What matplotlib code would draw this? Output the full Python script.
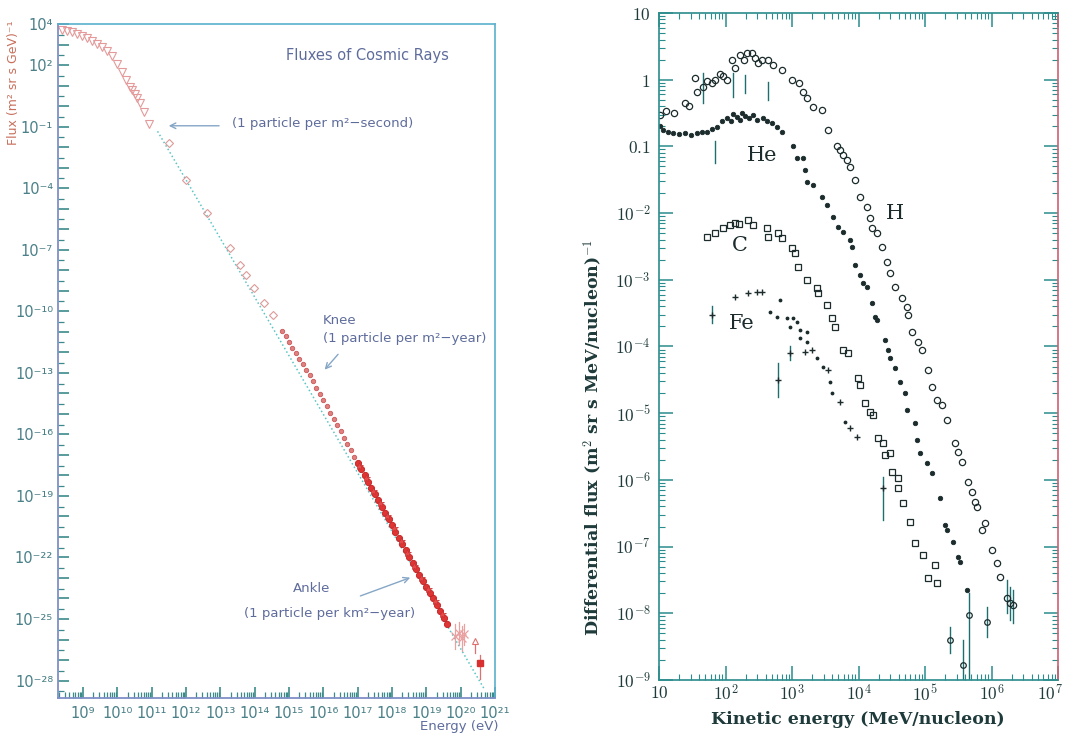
import matplotlib
matplotlib.use('Agg')
import matplotlib.pyplot as plt
import matplotlib.transforms as mtransforms
import numpy as np
from matplotlib.ticker import FixedLocator, NullFormatter

plt.rcParams['mathtext.fontset'] = 'cm'

# ---------------- left panel: all-particle spectrum (log10 values) ----------------
tri_logE = [8.38, 8.52, 8.67, 8.81, 8.96, 9.11, 9.26, 9.40, 9.55, 9.70, 9.84, 9.98,
            10.13, 10.25, 10.36, 10.43, 10.50, 10.58, 10.67, 10.78, 10.91]
tri_logF = [3.72, 3.66, 3.59, 3.50, 3.40, 3.30, 3.18, 3.03, 2.86, 2.66, 2.45, 2.05,
            1.64, 1.25, 0.95, 0.79, 0.60, 0.40, 0.17, -0.30, -0.89]

dia_logE = [11.49, 12.00, 12.60, 13.28, 13.57, 13.74, 13.98, 14.28, 14.52]
dia_logF = [-1.79, -3.58, -5.21, -6.92, -7.74, -8.22, -8.88, -9.58, -10.18]

knee_logE = [14.8, 14.9, 15.0, 15.1, 15.2, 15.3, 15.4, 15.5, 15.6, 15.7, 15.8, 15.9,
             16.0, 16.1, 16.2, 16.3, 16.4, 16.5, 16.6, 16.7, 16.8, 16.9]
knee_logF = [-10.95, -11.23, -11.50, -11.77, -12.04, -12.31, -12.58, -12.85, -13.12,
             -13.42, -13.73, -14.03, -14.34, -14.64, -14.95, -15.25, -15.56, -15.86,
             -16.17, -16.47, -16.78, -17.08]

ankle_logE = [17.0, 17.1, 17.2, 17.3, 17.4, 17.5, 17.6, 17.7, 17.8, 17.9, 18.0, 18.1,
              18.2, 18.3, 18.4, 18.5, 18.6, 18.7, 18.8, 18.9, 19.0, 19.1, 19.2, 19.3,
              19.4, 19.5, 19.6]
ankle_logF = [-17.39, -17.69, -18.00, -18.30, -18.61, -18.91, -19.22, -19.52, -19.83,
              -20.13, -20.44, -20.74, -21.05, -21.35, -21.66, -21.96, -22.27, -22.57,
              -22.86, -23.14, -23.43, -23.71, -24.00, -24.30, -24.62, -24.95, -25.25]

ankle2_logE = [17.05, 17.25, 17.45, 17.65, 17.85, 18.05, 18.25, 18.45, 18.65, 18.85,
               19.05, 19.25, 19.45]
ankle2_logF = [-17.52, -18.13, -18.74, -19.35, -19.96, -20.57, -21.18, -21.80, -22.40,
               -22.98, -23.55, -24.12, -24.75]

uhe_logE = [19.83, 19.95, 20.03, 20.09]
uhe_logF = [-25.85, -25.70, -25.94, -25.75]
uhe_err = [0.6, 0.55, 0.6, 0.5]

top_logE = 20.55
top_logF = -27.12
top_lo, top_hi = -27.9, -26.73
lim_logE = 20.41
lim_lo, lim_hi = -26.68, -26.05

ref_logE = [11.17, 20.68]
ref_logF = [-1.23, -28.39]

# ---------------- right panel: element spectra (log10 values) ----------------
H_logE = [1.02, 1.10, 1.22, 1.39, 1.45, 1.54, 1.57, 1.66, 1.72, 1.80, 1.84, 1.92, 1.96,
          2.02, 2.10, 2.15, 2.22, 2.28, 2.33, 2.40, 2.45, 2.49, 2.55, 2.64, 2.72, 2.85,
          3.00, 3.10, 3.17, 3.23, 3.32, 3.45, 3.54, 3.68, 3.72, 3.77, 3.82, 3.87, 3.95,
          4.02, 4.13, 4.17, 4.20, 4.28, 4.35, 4.43, 4.47, 4.55, 4.65, 4.73, 4.75, 4.80,
          4.89, 4.95, 5.05, 5.10, 5.18, 5.26, 5.33, 5.45, 5.50, 5.56, 5.65, 5.71, 5.75,
          5.78, 5.86, 5.90, 6.01, 6.08, 6.13, 6.23, 6.28, 6.32]
H_logF = [-0.53, -0.47, -0.50, -0.35, -0.40, 0.03, -0.18, -0.11, -0.02, -0.05, 0.00,
          0.08, 0.06, 0.00, 0.30, 0.18, 0.37, 0.30, 0.40, 0.40, 0.32, 0.25, 0.30, 0.30,
          0.22, 0.15, 0.00, -0.05, -0.18, -0.27, -0.41, -0.45, -0.75, -1.00, -1.05,
          -1.13, -1.20, -1.31, -1.50, -1.76, -1.91, -2.08, -2.23, -2.30, -2.51, -2.73,
          -2.90, -3.11, -3.27, -3.41, -3.53, -3.78, -3.93, -4.05, -4.35, -4.60, -4.80,
          -4.88, -5.10, -5.45, -5.58, -5.73, -6.03, -6.18, -6.33, -6.41, -6.75, -6.65,
          -7.05, -7.25, -7.46, -7.77, -7.85, -7.88]

He_logE = [1.02, 1.06, 1.13, 1.21, 1.30, 1.39, 1.48, 1.57, 1.65, 1.72, 1.80, 1.87, 1.95,
           2.02, 2.08, 2.12, 2.17, 2.22, 2.25, 2.29, 2.35, 2.41, 2.48, 2.56, 2.62, 2.70,
           2.77, 2.85, 3.02, 3.08, 3.17, 3.20, 3.23, 3.32, 3.45, 3.52, 3.61, 3.69, 3.77,
           3.87, 3.90, 3.95, 4.02, 4.07, 4.13, 4.20, 4.25, 4.28, 4.40, 4.44, 4.48, 4.55,
           4.62, 4.70, 4.73, 4.85, 4.88, 4.92, 5.03, 5.10, 5.23, 5.30, 5.33, 5.42, 5.50,
           5.53, 5.63]
He_logF = [-0.70, -0.75, -0.78, -0.80, -0.82, -0.80, -0.83, -0.80, -0.79, -0.78, -0.74,
           -0.71, -0.62, -0.57, -0.62, -0.52, -0.56, -0.60, -0.50, -0.55, -0.58, -0.53,
           -0.60, -0.58, -0.62, -0.65, -0.71, -0.78, -1.00, -1.17, -1.17, -1.35, -1.53,
           -1.58, -1.76, -1.88, -2.06, -2.21, -2.28, -2.40, -2.51, -2.78, -2.93, -3.05,
           -3.11, -3.35, -3.56, -3.61, -3.90, -4.05, -4.17, -4.32, -4.53, -4.70, -4.95,
           -5.15, -5.40, -5.60, -5.75, -5.90, -6.27, -6.68, -6.75, -6.93, -7.16, -7.23,
           -7.65]

C_logE = [1.72, 1.84, 1.96, 2.07, 2.14, 2.20, 2.34, 2.42, 2.62, 2.64, 2.79, 2.85, 3.00,
          3.05, 3.09, 3.22, 3.38, 3.39, 3.52, 3.60, 3.65, 3.77, 3.84, 3.99, 4.02, 4.10,
          4.17, 4.22, 4.29, 4.37, 4.40, 4.47, 4.50, 4.59, 4.59, 4.67, 4.77, 4.85, 4.97,
          5.05, 5.15, 5.18]
C_logF = [-2.36, -2.30, -2.23, -2.18, -2.15, -2.16, -2.10, -2.18, -2.23, -2.36, -2.30,
          -2.37, -2.52, -2.60, -2.81, -3.00, -3.12, -3.20, -3.38, -3.57, -3.71, -4.05,
          -4.10, -4.47, -4.58, -4.85, -4.98, -5.03, -5.37, -5.45, -5.63, -5.60, -5.88,
          -5.97, -6.12, -6.35, -6.63, -6.95, -7.13, -7.47, -7.28, -7.55]

Fe_plus_logE = [1.80, 2.14, 2.34, 2.47, 2.55, 2.97, 2.79, 3.20, 3.30, 3.54, 3.72, 3.87,
                3.98, 4.37]
Fe_plus_logF = [-3.53, -3.26, -3.20, -3.18, -3.19, -4.10, -4.50, -4.08, -4.05, -4.35,
                -4.83, -5.22, -5.35, -6.12]
Fe_dot_logE = [2.67, 2.77, 2.82, 2.92, 2.97, 3.02, 3.07, 3.12, 3.12, 3.22, 3.22, 3.38,
               3.47, 3.57, 3.60, 3.80]
Fe_dot_logF = [-3.48, -3.56, -3.30, -3.57, -3.71, -3.58, -3.63, -3.75, -3.87, -3.78,
               -3.93, -4.17, -4.30, -4.53, -4.70, -5.13]

# vertical error bars: energy, low, high
bar_logE = [1.84, 1.80, 2.79, 2.97, 4.37, 5.66, 5.57, 5.38, 5.93, 6.23, 6.28, 6.32,
            2.11, 2.29, 2.64, 1.66]
bar_lo = [-1.25, -3.65, -4.75, -4.20, -6.60, -9.00, -9.00, -8.60, -8.35, -8.00, -8.10,
          -8.15, -0.26, -0.20, -0.30, -0.35]
bar_hi = [-0.92, -3.40, -4.25, -4.00, -5.95, -7.70, -8.40, -8.20, -7.90, -7.50, -7.60,
          -7.65, 0.10, 0.07, -0.03, 0.10]
extra_logE = [5.66, 5.57, 5.38, 5.93]
extra_logF = [-8.03, -8.78, -8.40, -8.13]


def p(v):
    return 10 ** np.asarray(v, dtype=float)


sup = str.maketrans('-0123456789', '⁻⁰¹²³⁴⁵⁶⁷⁸⁹')

fig = plt.figure(figsize=(10.68, 7.38), dpi=100)

# ================= left panel =================
ax1 = fig.add_axes([58 / 1068, 1 - 698 / 738, 437 / 1068, 674 / 738])
ax1.set_xscale('log')
ax1.set_yscale('log')
ax1.set_xlim(10 ** 8.27, 1e21)
ax1.set_ylim(10 ** -28.85, 1e4)

ax1.plot(p(ref_logE), p(ref_logF), ls=':', color='#5cc4c4', lw=1.1)
ax1.plot(p(tri_logE), p(tri_logF), 'v', mfc='none', mec='#e49a9a', ms=5.5, mew=0.8)
ax1.plot(p(dia_logE), p(dia_logF), 'D', mfc='none', mec='#dc9a9a', ms=4.5, mew=0.8)
ax1.plot(p(knee_logE), p(knee_logF), 'o', mfc='#e08080', mec='#c85a5a', ms=3.2, mew=0.6)
ax1.plot(p(ankle_logE), p(ankle_logF), 'o', mfc='#e03535', mec='#c02020', ms=4.5, mew=0.6)
ax1.plot(p(ankle2_logE), p(ankle2_logF), '*', mfc='#e84848', mec='#c83030', ms=6, mew=0.5)
for e, f, d in zip(uhe_logE, uhe_logF, uhe_err):
    ax1.plot([10 ** e] * 2, [10 ** (f - d), 10 ** (f + d)], color='#e8a0a0', lw=0.9)
ax1.plot(p(uhe_logE), p(uhe_logF), 'x', color='#e8a0a0', ms=6, mew=0.9)
ax1.plot([10 ** lim_logE] * 2, [10 ** lim_lo, 10 ** lim_hi], color='#e07070', lw=0.9)
ax1.plot([10 ** lim_logE], [10 ** lim_hi], '^', mfc='white', mec='#e07070', ms=5, mew=0.8)
ax1.plot([10 ** top_logE] * 2, [10 ** top_lo, 10 ** top_hi], color='#e07070', lw=0.9)
ax1.plot([10 ** top_logE], [10 ** top_logF], 's', color='#d83030', ms=4)

ydec = list(range(-28, 5))
ylab = [4, 2, -1, -4, -7, -10, -13, -16, -19, -22, -25, -28]
ax1.yaxis.set_major_locator(FixedLocator([10.0 ** d for d in ydec]))
ax1.yaxis.set_minor_locator(FixedLocator([3 * 10.0 ** d for d in range(-29, 4)]))
ax1.set_yticklabels([('10' + str(d).translate(sup)) if d in ylab else '' for d in ydec])
ax1.yaxis.set_minor_formatter(NullFormatter())
xdec = list(range(9, 22))
ax1.xaxis.set_major_locator(FixedLocator([10.0 ** d for d in xdec]))
ax1.xaxis.set_minor_locator(FixedLocator([m * 10.0 ** d for d in range(8, 21) for m in range(2, 10)]))
ax1.set_xticklabels(['10' + str(d).translate(sup) for d in xdec])
ax1.xaxis.set_minor_formatter(NullFormatter())
ax1.tick_params(which='both', direction='in', top=False, right=False, colors='#3c8a8a',
                labelcolor='#4a8088', labelsize=10.5)
ax1.tick_params(which='major', length=8, width=1.2)
ax1.tick_params(which='minor', length=4, width=0.9)
ax1.tick_params(axis='x', pad=6)
for s in ['left', 'bottom']:
    ax1.spines[s].set_color('#7f8fc8')
    ax1.spines[s].set_linewidth(1.3)
for s in ['top', 'right']:
    ax1.spines[s].set_color('#5ab0cc')
    ax1.spines[s].set_linewidth(1.2)

txt = '#5e6c9c'
arr = '#86a6c6'
ax1.text(0.707, 0.954, 'Fluxes of Cosmic Rays', transform=ax1.transAxes, ha='center',
         va='center', fontsize=10.5, color=txt)
ax1.text(0.398, 0.853, '(1 particle per m²−second)', transform=ax1.transAxes, ha='left',
         va='center', fontsize=9.5, color=txt)
ax1.annotate('', xy=(0.247, 0.849), xytext=(0.375, 0.849), xycoords='axes fraction',
             arrowprops=dict(arrowstyle='->', color=arr, lw=1))
ax1.text(0.606, 0.560, 'Knee', transform=ax1.transAxes, ha='left', va='center',
         fontsize=9.5, color=txt)
ax1.text(0.606, 0.534, '(1 particle per m²−year)', transform=ax1.transAxes, ha='left',
         va='center', fontsize=9.5, color=txt)
ax1.annotate('', xy=(0.606, 0.484), xytext=(0.645, 0.513), xycoords='axes fraction',
             arrowprops=dict(arrowstyle='->', color=arr, lw=1))
ax1.text(0.581, 0.162, 'Ankle', transform=ax1.transAxes, ha='center', va='center',
         fontsize=9.5, color=txt)
ax1.text(0.622, 0.125, '(1 particle per km²−year)', transform=ax1.transAxes,
         ha='center', va='center', fontsize=9.5, color=txt)
ax1.annotate('', xy=(0.812, 0.180), xytext=(0.686, 0.150), xycoords='axes fraction',
             arrowprops=dict(arrowstyle='->', color=arr, lw=1))
ax1.text(1.007, -0.043, 'Energy (eV)', transform=ax1.transAxes, ha='right', va='center',
         fontsize=9.5, color=txt)
fig.text(14 / 1068, 1 - 83 / 738, 'Flux (m² sr s GeV)⁻¹', rotation=90, ha='center',
         va='center', fontsize=9, color='#c8705c')

# ================= right panel =================
ink = '#1c2c2c'
ax2 = fig.add_axes([659 / 1068, 1 - 680 / 738, 399 / 1068, 667 / 738])
ax2.set_xscale('log')
ax2.set_yscale('log')
ax2.set_xlim(10, 1e7)
ax2.set_ylim(1e-9, 10)

for e, lo, hi in zip(bar_logE, bar_lo, bar_hi):
    ax2.plot([10 ** e] * 2, [10 ** lo, 10 ** hi], color='#1f6e6e', lw=1)
ax2.plot(p(H_logE), p(H_logF), 'o', mfc='none', mec=ink, ms=4.5, mew=0.9)
ax2.plot(p(He_logE), p(He_logF), 'o', mfc=ink, mec=ink, ms=3.2, mew=0.6)
ax2.plot(p(C_logE), p(C_logF), 's', mfc='none', mec=ink, ms=4.3, mew=0.9)
ax2.plot(p(Fe_plus_logE), p(Fe_plus_logF), '+', color=ink, ms=5, mew=1)
ax2.plot(p(Fe_dot_logE), p(Fe_dot_logF), '.', color=ink, ms=3.5)
ax2.plot(p(extra_logE), p(extra_logF), 'o', mfc='none', mec=ink, ms=4, mew=0.9)

ax2.xaxis.set_major_locator(FixedLocator([10.0 ** d for d in range(1, 8)]))
ax2.xaxis.set_minor_locator(FixedLocator([m * 10.0 ** d for d in range(1, 7) for m in range(2, 10)]))
ax2.set_xticklabels(['$10$'] + ['$10^{%d}$' % d for d in range(2, 8)])
ax2.xaxis.set_minor_formatter(NullFormatter())
ax2.yaxis.set_major_locator(FixedLocator([10.0 ** d for d in range(-9, 2)]))
ax2.yaxis.set_minor_locator(FixedLocator([m * 10.0 ** d for d in range(-9, 1) for m in range(2, 10)]))
ax2.set_yticklabels(['$10^{%d}$' % d for d in range(-9, -1)] + ['$0.1$', '$1$', '$10$'])
ax2.yaxis.set_minor_formatter(NullFormatter())
ax2.tick_params(which='both', direction='in', top=True, right=True, colors='#2a8c8c',
                labelcolor='#1e3a3a', labelsize=12.5)
ax2.tick_params(which='major', length=10, width=1.1)
ax2.tick_params(which='minor', length=4, width=0.8)
ax2.tick_params(axis='x', pad=3)
ax2.tick_params(axis='y', pad=6)
for s in ['left', 'bottom', 'top']:
    ax2.spines[s].set_color('#2a8c8c')
    ax2.spines[s].set_linewidth(1.2)
ax2.spines['right'].set_color('#d06070')
ax2.spines['right'].set_linewidth(1.2)

# keep the last x label inside the figure edge
last = ax2.get_xticklabels()[-1]
last.set_transform(last.get_transform() + mtransforms.ScaledTranslation(-8 / 100, 0, fig.dpi_scale_trans))

ax2.text(0.258, 0.787, 'He', transform=ax2.transAxes, ha='center', va='center',
         fontsize=15, family='DejaVu Serif', color=ink)
ax2.text(0.591, 0.700, 'H', transform=ax2.transAxes, ha='center', va='center',
         fontsize=15, family='DejaVu Serif', color=ink)
ax2.text(0.203, 0.652, 'C', transform=ax2.transAxes, ha='center', va='center',
         fontsize=15, family='DejaVu Serif', color=ink)
ax2.text(0.208, 0.535, 'Fe', transform=ax2.transAxes, ha='center', va='center',
         fontsize=15, family='DejaVu Serif', color=ink)

fig.text(858 / 1068, 1 - 719 / 738, 'Kinetic energy (MeV/nucleon)', ha='center',
         va='center', fontsize=12.5, family='DejaVu Serif', weight='bold', color='#1e3a3a')
fig.text(593 / 1068, 1 - 437 / 738, 'Differential flux (m$^2$ sr s MeV/nucleon)$^{-1}$',
         rotation=90, ha='center', va='center', fontsize=12.5, family='DejaVu Serif',
         weight='bold', color='#1e3a3a')

fig.savefig('out.png', dpi=100, facecolor='white')
